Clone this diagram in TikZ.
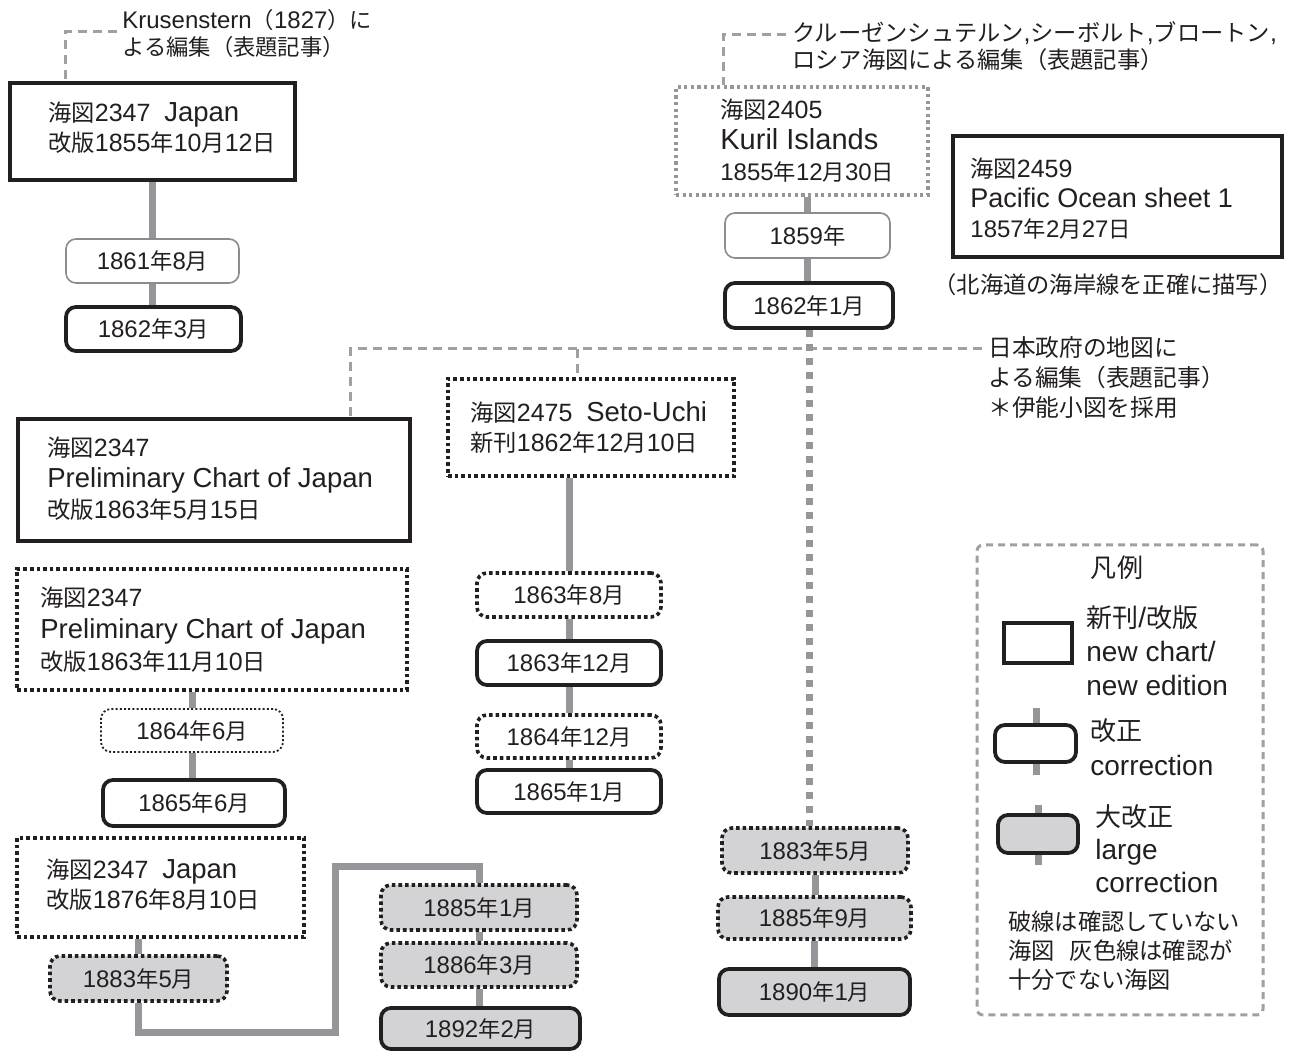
\documentclass[tikz,border=0pt]{standalone}
\usepackage{fontspec}
\setmainfont{Liberation Sans}
\newfontfamily\latinfont{Liberation Sans}
\newfontfamily\jpfont[Scale=0.93]{Noto Sans CJK JP}
\usetikzlibrary{fit,backgrounds}
\XeTeXinterchartokenstate=1
\newXeTeXintercharclass\JPclass
\count255="3000
\loop\ifnum\count255<"A000
  \XeTeXcharclass\count255=\JPclass
  \advance\count255 by 1
\repeat
\count255="FF00
\loop\ifnum\count255<"FFF0
  \XeTeXcharclass\count255=\JPclass
  \advance\count255 by 1
\repeat
\XeTeXinterchartoks 0 \JPclass = {\jpfont}
\XeTeXinterchartoks 4095 \JPclass = {\jpfont}
\XeTeXinterchartoks \JPclass 0 = {\latinfont}
\XeTeXinterchartoks \JPclass 4095 = {\latinfont}
\newcommand\LatS[2]{{\fontsize{#1}{16}\selectfont #2}}
\definecolor{inkblack}{RGB}{35,31,32}
\definecolor{linegray}{RGB}{150,150,154}
\definecolor{dashgray}{RGB}{160,160,162}
\definecolor{fillgray}{RGB}{211,211,213}
\definecolor{thingray}{RGB}{140,140,140}
\definecolor{dotgray}{RGB}{150,150,150}
\begin{document}
\begin{tikzpicture}[x=0.5pt,y=-0.5pt,
  every node/.style={text=inkblack},
  solidbox/.style={draw=inkblack,line width=1.9pt,inner sep=0pt,fill=white},
  dotbox/.style={draw=inkblack,line width=1.8pt,dash pattern=on 1.8pt off 1.5pt,inner sep=0pt,fill=white},
  graydotbox/.style={draw=dotgray,line width=1.6pt,dash pattern=on 1.6pt off 1.7pt,inner sep=0pt,fill=white},
  rnd/.style={rounded corners=5pt,inner sep=0pt,fill=white},
  thinrnd/.style={rnd,draw=thingray,line width=0.8pt},
  thickrnd/.style={rnd,draw=inkblack,line width=1.9pt},
  dotrnd/.style={rnd,draw=inkblack,line width=1.8pt,dash pattern=on 1.8pt off 1.5pt},
  finedotrnd/.style={rnd,draw=inkblack,line width=0.9pt,dash pattern=on 1pt off 1.1pt},
  greyfill/.style={fill=fillgray},
  dl/.style={inner sep=0pt,text=inkblack,font=\fontsize{12}{14}\selectfont},
  txt/.style={inner sep=0pt,align=left,anchor=west},
  conn/.style={draw=linegray,line width=3.5pt},
  dotconn/.style={draw=linegray,line width=3.5pt,dash pattern=on 3.5pt off 3.5pt},
  refline/.style={draw=dashgray,line width=1.5pt,dash pattern=on 4.5pt off 3pt},
  legendframe/.style={draw=dashgray,line width=1.5pt,dash pattern=on 3.5pt off 2.5pt,rounded corners=3pt,inner sep=0pt},
]
\useasboundingbox (0,0) rectangle (1303,1052);

% ---- top-left chart 2347 Japan
\node[solidbox,fit={(10,83) (295,180)}] (b1) {};
\node[txt,font=\fontsize{12.5}{15}\selectfont] (b1t) at (48,128) {海図2347\hspace{0.55em}\LatS{13.75}{Japan}\\改版1855年10月12日};
\node[thinrnd,fit={(66,239) (239,283)},label={[dl]center:1861年8月}] (d1861) {};
\node[thickrnd,fit={(66,307) (241,351)},label={[dl]center:1862年3月}] (d1862c) {};
\node[txt,font=\fontsize{12}{13.5}\selectfont] (kru) at (122,33.5) {Krusenstern（1827）に\\よる編集（表題記事）};

% ---- Kuril
\node[graydotbox,fit={(676,87) (928,195)}] (kuril) {};
\node[txt,font=\fontsize{12.5}{15.5}\selectfont] (kurilt) at (720,141) {海図2405\\\LatS{14.5}{Kuril Islands}\\\LatS{12}{1855年12月30日}};
\node[thinrnd,fit={(725,213) (890,258)},label={[dl]center:1859年}] (kr1859) {};
\node[thickrnd,fit={(725,283) (893,328)},label={[dl]center:1862年1月}] (kr1862) {};
\node[txt,font=\fontsize{12.5}{13.5}\selectfont] (kurn) at (792,46.5) {クルーゼンシュテルン,シーボルト,ブロートン,\\ロシア海図による編集（表題記事）};

% ---- Pacific
\node[solidbox,fit={(953,136) (1282,257)}] (pac) {};
\node[txt,font=\fontsize{12.5}{15}\selectfont] (pact) at (970,199) {海図2459\\\LatS{13.5}{Pacific Ocean sheet 1}\\\LatS{12}{1857年2月27日}};
\node[inner sep=0pt,font=\fontsize{12.5}{15}\selectfont] (hok) at (1108,285) {（北海道の海岸線を正確に描写）};

% ---- government note
\node[txt,font=\fontsize{12.75}{15}\selectfont] (gov) at (988,378) {日本政府の地図に\\よる編集（表題記事）\\＊伊能小図を採用};

% ---- middle
\node[solidbox,fit={(18,419) (410,541)}] (p1) {};
\node[txt,font=\fontsize{12.5}{15.5}\selectfont] (p1t) at (47,479) {海図2347\\\LatS{13.75}{Preliminary Chart of Japan}\\改版1863年5月15日};
\node[dotbox,fit={(448,379) (734,476)}] (seto) {};
\node[txt,font=\fontsize{12.5}{15}\selectfont] (setot) at (470,428) {海図2475\hspace{0.55em}\LatS{13.75}{Seto-Uchi}\\新刊1862年12月10日};
\node[dotbox,fit={(17,569) (407,690)}] (p2) {};
\node[txt,font=\fontsize{12.5}{16}\selectfont] (p2t) at (40,630) {海図2347\\\LatS{13.75}{Preliminary Chart of Japan}\\改版1863年11月10日};

% ---- Seto column
\node[dotrnd,fit={(477,573) (661,617)},label={[dl]center:1863年8月}] (s1) {};
\node[thickrnd,fit={(477,641) (661,685)},label={[dl]center:1863年12月}] (s2) {};
\node[dotrnd,fit={(477,715) (661,758)},label={[dl]center:1864年12月}] (s3) {};
\node[thickrnd,fit={(477,770) (661,813)},label={[dl]center:1865年1月}] (s4) {};

% ---- left column
\node[finedotrnd,fit={(101,709) (283,752)},label={[dl]center:1864年6月}] (l1) {};
\node[thickrnd,fit={(103,780) (285,826)},label={[dl]center:1865年6月}] (l2) {};
\node[dotbox,fit={(17,838) (304,937)}] (j76) {};
\node[txt,font=\fontsize{12.5}{15}\selectfont] (j76t) at (46,885) {海図2347\hspace{0.55em}\LatS{13.75}{Japan}\\改版1876年8月10日};
\node[dotrnd,greyfill,fit={(50,956) (227,1001)},label={[dl]center:1883年5月}] (l3) {};
\node[dotrnd,greyfill,fit={(381,885) (577,930)},label={[dl]center:1885年1月}] (m1) {};
\node[dotrnd,greyfill,fit={(381,943) (577,987)},label={[dl]center:1886年3月}] (m2) {};
\node[thickrnd,greyfill,fit={(381,1008) (580,1049)},label={[dl]center:1892年2月}] (m3) {};

% ---- right column
\node[dotrnd,greyfill,fit={(722,828) (908,873)},label={[dl]center:1883年5月}] (r1) {};
\node[dotrnd,greyfill,fit={(718,897) (911,939)},label={[dl]center:1885年9月}] (r2) {};
\node[thickrnd,greyfill,fit={(719,969) (910,1015)},label={[dl]center:1890年1月}] (r3) {};

% ---- legend
\node[legendframe,fit={(977,545) (1263,1015)}] (leg) {};
\node[inner sep=0pt,font=\fontsize{14}{16}\selectfont] (legt) at (1117,568) {凡例};
\node[solidbox,fit={(1004,623) (1072,663)}] (lg1) {};
\node[txt,font=\fontsize{14}{17}\selectfont] (lg1t) at (1086,651) {新刊/改版\\new chart/\\new edition};
\node[thickrnd,fit={(995,725) (1076,762)}] (lg2) {};
\node[txt,font=\fontsize{14}{17.5}\selectfont] (lg2t) at (1090,747.5) {改正\\correction};
\node[thickrnd,greyfill,fit={(998,815) (1078,853)}] (lg3) {};
\node[txt,font=\fontsize{14}{16.5}\selectfont] (lg3t) at (1095,849) {大改正\\large\\correction};
\node[txt,font=\fontsize{12.5}{14.5}\selectfont] (lgn) at (1008,951) {破線は確認していない\\海図\hspace{0.6em}灰色線は確認が\\十分でない海図};

% ---- free ends / bends
\coordinate (k0) at (117,32);  \coordinate (kc) at (65,32);
\coordinate (q0) at (786,35);  \coordinate (qc) at (723,35);
\coordinate (g0) at (982,349); \coordinate (g1) at (350,349); \coordinate (g2) at (577,349);
\coordinate (c1) at (335,1033); \coordinate (c2) at (335,867);
\coordinate (lg2a) at (1036,708); \coordinate (lg2b) at (1036,775);
\coordinate (lg3a) at (1038,805); \coordinate (lg3b) at (1038,865);

\begin{pgfonlayer}{background}
\fill[white] (0,0) rectangle (1303,1052);
% reference (compilation source) lines
\draw[refline] (k0) -- (kc) -- (kc |- b1.north);
\draw[refline] (q0) -- (qc) -- (qc |- kuril.north);
\draw[refline] (g0) -- (g1) -- (g1 |- p1.north);
\draw[refline] (g2) -- (g2 |- seto.north);
% edition chains
\draw[conn] (d1861.north |- b1.south) -- (d1861.north);
\draw[conn] (d1861.south) -- (d1861.south |- d1862c.north);
\draw[conn] (kr1859.north |- kuril.south) -- (kr1859.north);
\draw[conn] (kr1859.south) -- (kr1859.south |- kr1862.north);
\draw[dotconn] (kr1862.south) -- (kr1862.south |- r1.north);
\draw[conn] (r1.south) -- (r1.south |- r2.north);
\draw[conn] (r2.south) -- (r2.south |- r3.north);
\draw[conn] (s1.north |- seto.south) -- (s1.north);
\draw[conn] (s1.south) -- (s1.south |- s2.north);
\draw[conn] (s2.south) -- (s2.south |- s3.north);
\draw[conn] (s3.south) -- (s3.south |- s4.north);
\draw[conn] (l1.north |- p2.south) -- (l1.north);
\draw[conn] (l1.south) -- (l1.south |- l2.north);
\draw[conn] (l3.north |- j76.south) -- (l3.north);
\draw[conn] (l3.south) -- (l3.south |- c1) -- (c1) -- (c2) -- (c2 -| m1.north) -- (m1.north);
\draw[conn] (m1.south) -- (m1.south |- m2.north);
\draw[conn] (m2.south) -- (m2.south |- m3.north);
% legend markers
\draw[conn] (lg2a) -- (lg2b);
\draw[conn] (lg3a) -- (lg3b);
\end{pgfonlayer}
\end{tikzpicture}
\end{document}
